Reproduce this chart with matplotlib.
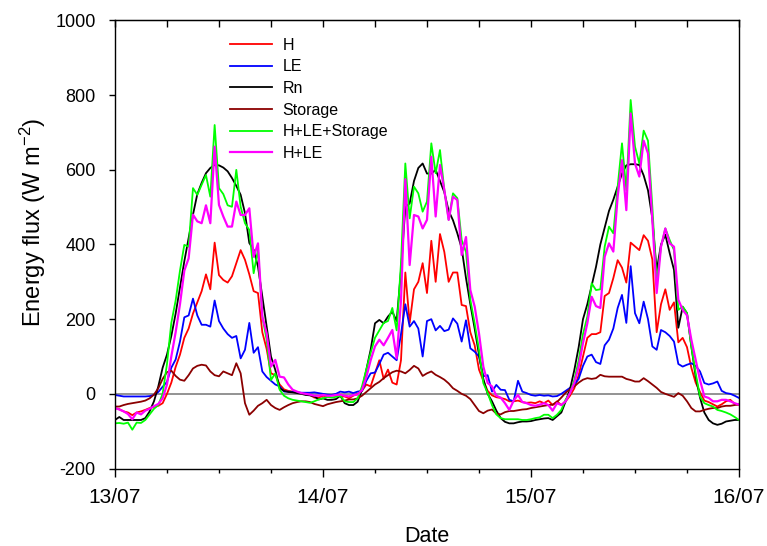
import numpy as np
import pandas as pd
import matplotlib
matplotlib.use("Agg")
import matplotlib.pyplot as plt
import matplotlib.dates as mdates
from matplotlib.ticker import NullFormatter, MultipleLocator

plt.rcParams["font.family"] = ["Liberation Sans", "DejaVu Sans"]
plt.rcParams["mathtext.default"] = "regular"
plt.rcParams["axes.unicode_minus"] = False

# half-hourly values, 13/07 00:00 to 16/07 00:00
time = pd.date_range("2008-07-13 00:00", periods=145, freq="30min")

H = [-38, -41, -47, -50, -57, -50, -47, -43, -38, -35, -32, -25, 0, 30, 72, 105, 150, 175, 215, 245, 275, 320, 280, 405,
     318, 305, 298, 315, 350, 385, 359, 320, 275, 270, 165, 120, 55, 50, 25, 12, 8, 6, 4, 2, 0, -3, -10, -10,
     -5, -8, -3, -5, -7, -7, -12, -5, 0, 8, 25, 20, 55, 90, 40, 65, 30, 25, 90, 325, 190, 280, 300, 350, 270, 410,
     300, 428, 380, 300, 325, 325, 238, 235, 165, 130, 65, 35, 8, -4, -9, -11, -14, -20, -20, -18, -22, -24,
     -23, -25, -20, -25, -18, -30, -20, -30, -20, -5, 15, 50, 100, 150, 160, 160, 165, 262, 270, 310, 358, 338, 298, 405,
     395, 385, 425, 410, 360, 165, 240, 280, 225, 245, 138, 150, 125, 70, 30, 5, -18, -22, -28, -34, -28, -20, -16, -27, -30]

LE = [-3, -5, -7, -7, -7, -7, -7, -7, -6, -3, 5, 19, 32, 70, 92, 140, 205, 210, 255, 210, 185, 185, 180, 250,
      195, 175, 160, 150, 155, 95, 118, 190, 110, 125, 60, 45, 35, 25, 20, 6, 6, 5, 4, 3, 3, 3, 4, 2,
      0, -2, -3, 0, 6, 4, 6, 2, 6, 8, 35, 55, 57, 80, 105, 110, 100, 90, 160, 240, 180, 195, 175, 100,
      195, 200, 170, 182, 168, 172, 202, 188, 140, 197, 122, 113, 100, 47, 50, 6, 24, 11, 10, -16, -20, 35, 6, 2,
      -3, -5, -3, -5, -4, -7, -6, 0, 8, 16, 25, 40, 75, 100, 105, 85, 80, 130, 145, 175, 230, 265, 190, 342,
      216, 189, 247, 200, 127, 118, 171, 165, 155, 140, 80, 73, 78, 82, 75, 60, 29, 25, 28, 33, 8, 2, 0, -5, -11]

Rn = [-70, -62, -70, -70, -70, -70, -70, -65, -47, -20, 20, 70, 105, 155, 215, 285, 355, 418, 480, 535, 565, 591, 605, 613,
      612, 606, 596, 578, 557, 533, 484, 404, 386, 341, 261, 180, 100, 64, 15, 8, 5, 4, 2, 0, -3, -4, -7, -15,
      -12, -16, -16, -14, -5, -25, -30, -30, -21, 11, 64, 118, 189, 198, 189, 207, 220, 195, 330, 500, 510, 570, 605, 617,
      590, 590, 600, 570, 540, 490, 465, 430, 390, 310, 240, 175, 105, 40, 0, -20, -45, -65, -75, -79, -79, -76, -74, -74,
      -73, -70, -68, -66, -65, -70, -60, -50, -20, 12, 64, 125, 200, 240, 290, 340, 400, 445, 490, 520, 555, 590, 612, 615,
      615, 613, 585, 545, 470, 330, 400, 426, 377, 332, 177, 233, 216, 127, 46, -10, -50, -70, -79, -83, -80, -74, -72, -70, -70]

Storage = [-34, -34, -30, -27, -25, -23, -21, -18, -12, -2, 15, 40, 58, 62, 48, 38, 35, 50, 68, 75, 78, 76, 60, 50,
           47, 60, 55, 50, 82, 55, -25, -56, -45, -32, -25, -16, -30, -38, -43, -36, -30, -25, -22, -20, -20, -22, -27, -30,
           -33, -28, -25, -22, -20, -18, -15, -15, -12, -5, 5, 15, 25, 32, 42, 50, 58, 62, 60, 55, 64, 75, 68, 48,
           55, 60, 51, 45, 38, 28, 15, 8, 0, -5, -14, -30, -46, -52, -45, -42, -53, -55, -49, -46, -46, -44, -42, -41,
           -38, -36, -34, -32, -30, -29, -22, -10, 3, 12, 20, 30, 38, 42, 40, 42, 51, 47, 46, 46, 46, 46, 40, 37,
           33, 33, 42, 34, 25, 16, 5, 0, -4, -8, 2, -5, -20, -38, -47, -47, -43, -40, -38, -38, -34, -32, -32, -30, -28]

H_LE_S = [-79, -78, -80, -77, -96, -77, -78, -70, -55, -40, -30, 0, 80, 190, 250, 330, 399, 394, 551, 533, 560, 586, 528, 720,
          551, 535, 505, 501, 600, 501, 457, 439, 323, 386, 207, 145, 37, 55, 11, -5, -12, -16, -18, -20, -22, -24, -20, -15,
          -12, -8, -10, -8, -5, -20, -22, -22, -12, 20, 65, 110, 150, 170, 190, 195, 230, 170, 350, 617, 470, 555, 537, 488,
          515, 671, 591, 653, 546, 466, 537, 524, 412, 380, 252, 189, 118, 29, 2, -30, -55, -65, -68, -68, -68, -68, -70, -70,
          -68, -65, -63, -56, -56, -65, -56, -43, -15, 2, 37, 90, 160, 207, 296, 278, 280, 394, 448, 430, 555, 671, 546, 787,
          662, 617, 705, 678, 501, 300, 394, 443, 412, 385, 225, 234, 216, 127, 55, -7, -25, -30, -34, -43, -46, -50, -55, -62, -70]

H_LE = [-38, -42, -47, -54, -68, -50, -55, -45, -40, -33, -27, -12, 25, 100, 165, 240, 330, 363, 480, 462, 457, 505, 457, 662,
        506, 475, 448, 448, 515, 479, 479, 497, 367, 403, 207, 162, 73, 91, 46, 44, 25, 11, 6, 2, 0, -2, -5, -5,
        -3, -5, -5, -3, -2, -5, -7, -3, -2, 10, 45, 90, 127, 145, 130, 150, 171, 95, 250, 575, 345, 479, 475, 443,
        466, 635, 475, 613, 546, 466, 528, 519, 372, 420, 278, 234, 162, 73, 29, 20, -5, -10, -25, -43, -18, -3, -22, -25,
        -30, -32, -29, -25, -30, -45, -25, -30, -20, 2, 29, 73, 136, 189, 260, 235, 230, 367, 403, 381, 528, 626, 492, 751,
        617, 582, 678, 644, 466, 270, 394, 443, 403, 394, 252, 225, 210, 145, 91, 37, -7, -11, -20, -20, -16, -16, -20, -25, -29]

series = [
    ("H", H, "#ff0000", 1.3),
    ("LE", LE, "#0000ff", 1.3),
    ("Rn", Rn, "#000000", 1.3),
    ("Storage", Storage, "#8b0000", 1.3),
    ("H+LE+Storage", H_LE_S, "#00ff00", 1.3),
    ("H+LE", H_LE, "#ff00ff", 1.6),
]

fig = plt.figure(figsize=(7.67, 5.46), dpi=100)
ax = fig.add_axes([0.1499, 0.1419, 0.8136, 0.8206])

ax.axhline(0, color="#808080", lw=1.2, zorder=1)
for name, vals, col, lw in series:
    ax.plot(time, vals, color=col, lw=lw, label=name, zorder=2)

ax.set_xlim(pd.Timestamp("2008-07-13"), pd.Timestamp("2008-07-16"))
ax.set_ylim(-200, 1000)
ax.yaxis.set_major_locator(MultipleLocator(200))

ax.xaxis.set_major_locator(mdates.DayLocator())
ax.xaxis.set_major_formatter(mdates.DateFormatter("%d/%m"))
ax.xaxis.set_minor_locator(mdates.HourLocator(byhour=[6, 12, 18]))

ax.tick_params(axis="x", which="major", direction="out", length=6, width=1, labelsize=15, pad=8)
ax.tick_params(axis="x", which="minor", direction="out", length=3, width=1)
ax.tick_params(axis="y", direction="out", length=4, width=1, labelsize=13, pad=10)

top = ax.secondary_xaxis("top")
top.xaxis.set_major_locator(mdates.HourLocator(byhour=[0, 6, 12, 18]))
top.xaxis.set_major_formatter(NullFormatter())
top.tick_params(direction="in", length=5, width=1)

for sp in ax.spines.values():
    sp.set_linewidth(1.0)

ax.set_xlabel("Date", fontsize=15.5, labelpad=14)
ax.set_ylabel("Energy flux (W m$^{-2}$)", fontsize=17)
ax.yaxis.set_label_coords(-0.108, 0.55)

ax.legend(loc="upper left", bbox_to_anchor=(0.185, 0.962), frameon=False,
          fontsize=11.5, handlelength=2.6, handletextpad=0.65, labelspacing=0.42,
          borderpad=0, borderaxespad=0)

fig.savefig("out.png", dpi=100)
